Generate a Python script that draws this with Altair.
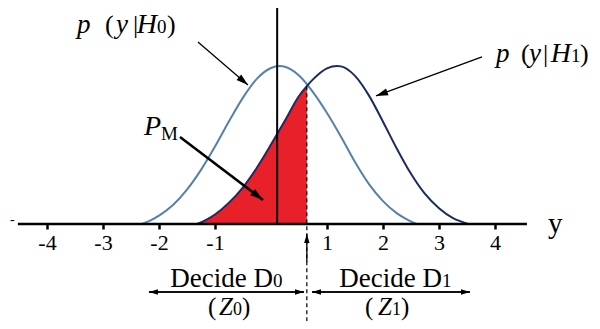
import altair as alt
import pandas as pd

# ---- curve readings (x in axis units, y in density units) ----
H0_X = [-2.30, -2.15, -2.0, -1.75, -1.5, -1.25, -1.0, -0.75, -0.5, -0.25, 0.0, 0.15, 0.25, 0.5, 0.75, 1.0, 1.25, 1.5, 1.75, 2.0, 2.25, 2.45, 2.6]
H0_Y = [0.0, 0.009, 0.021, 0.048, 0.087, 0.137, 0.196, 0.260, 0.320, 0.368, 0.395, 0.400, 0.398, 0.376, 0.334, 0.281, 0.221, 0.157, 0.101, 0.058, 0.027, 0.010, 0.0]
H1_X = [-1.32, -1.15, -1.0, -0.75, -0.5, -0.25, 0.0, 0.25, 0.5, 0.64, 0.75, 1.0, 1.18, 1.25, 1.5, 1.75, 2.0, 2.25, 2.5, 2.75, 3.0, 3.25, 3.4, 3.52]
H1_Y = [0.0, 0.011, 0.024, 0.054, 0.093, 0.143, 0.201, 0.262, 0.324, 0.349, 0.366, 0.394, 0.400, 0.399, 0.375, 0.325, 0.259, 0.190, 0.127, 0.076, 0.040, 0.015, 0.006, 0.0]

THRESHOLD = 0.64
THRESHOLD_Y = 0.349
ORIGIN_LINE = 0.11
TICKS = [-4, -3, -2, -1, 1, 2, 3, 4]
AXIS_EXTENT = [-4.52, 4.57]

# arrows: start x, start y, tip x, tip y, width
ARROW_X = [-1.304, 3.768, -1.625, 0.64, -2.179, 0.589, 0.732, 3.554]
ARROW_Y = [0.4608, 0.4228, 0.2203, -0.0962, -0.1722, -0.1722, -0.1722, -0.1722]
ARROW_X2 = [-0.411, 1.875, -0.143, 0.64, 0.589, -2.179, 3.554, 0.732]
ARROW_Y2 = [0.3519, 0.3241, 0.0608, -0.0253, -0.1722, -0.1722, -0.1722, -0.1722]
ARROW_W = [1.3, 1.3, 2.5, 1.3, 1.3, 1.3, 1.3, 1.3]
HEAD_ANGLE = [130.7, 249.8, 127.2, 0, 90, 270, 90, 270]
HEAD_SIZE = [144, 144, 169, 81, 81, 81, 81, 81]

# text pieces (italic, left aligned)
IT_TEXT = ["p", "y", "p", "y"]
IT_X = [-3.464, -2.768, 4.018, 4.607]
IT_Y = [0.4835, 0.4835, 0.4101, 0.4101]
IT_SIZE = [27, 27, 27, 27]

# italic, right aligned
ITR_TEXT = ["H", "H", "P", "Z", "Z"]
ITR_X = [-2.036, 5.357, -1.964, -0.679, 2.161]
ITR_Y = [0.4835, 0.4101, 0.2253, -0.2304, -0.2304]
ITR_SIZE = [28, 28, 28, 25, 25]

# upright, left aligned
UP_TEXT = ["(", "|", "0", ")", "(", "|", "1", ")", "M", "0", "(", "0", ")", "1", "(", "1", ")", "y", "-"]
UP_X = [-2.964, -2.464, -2.036, -1.857, 4.464, 4.857, 5.357, 5.518, -1.964, 0.036, -1.125, -0.679, -0.518, 3.054, 1.679, 2.161, 2.321, 4.946, -4.661]
UP_Y = [0.4835, 0.4835, 0.4835, 0.4835, 0.4101, 0.4101, 0.4101, 0.4101, 0.2127, -0.1595, -0.2304, -0.2304, -0.2304, -0.1595, -0.2304, -0.2304, -0.2304, -0.0228, 0.0]
UP_SIZE = [26, 26, 19, 26, 26, 26, 19, 26, 19, 19, 25, 18, 25, 19, 25, 18, 25, 29, 14]

# upright, right aligned
UPR_TEXT = ["Decide D", "Decide D"]
UPR_X = [0.036, 3.054]
UPR_Y = [-0.1595, -0.1595]
UPR_SIZE = [27, 27]

FONT = "Liberation Serif"

XDOM = [-4.696, 5.732]
YDOM = [-0.2456, 0.5468]
W, H = 584, 313

xscale = alt.Scale(domain=XDOM, nice=False, zero=False)
yscale = alt.Scale(domain=YDOM, nice=False, zero=False)
xaxis = alt.Axis(values=TICKS, domain=False, grid=False, title=None, ticks=True,
                 tickColor="black", tickWidth=2.5, tickSize=5, labelFont=FONT,
                 labelFontSize=22, labelColor="black", labelPadding=3, offset=-97,
                 labelFlush=False, labelOverlap=False,
                 labelExpr="datum.value < 0 ? '-' + abs(datum.value) : '' + datum.value")

def X(f="x"):
    return alt.X(f"{f}:Q", scale=xscale, axis=xaxis)

def Y(f="y"):
    return alt.Y(f"{f}:Q", scale=yscale, axis=None)

h0 = pd.DataFrame({"x": H0_X, "y": H0_Y})
h1 = pd.DataFrame({"x": H1_X, "y": H1_Y})

red = alt.Chart(h1).transform_filter(alt.datum.x <= THRESHOLD).mark_area(
    color="#e8202a", interpolate="monotone").encode(x=X(), y=Y())
l0 = alt.Chart(h0).mark_line(color="#5580ab", strokeWidth=2, interpolate="monotone").encode(x=X(), y=Y())
l1 = alt.Chart(h1).mark_line(color="#1b2a63", strokeWidth=2, interpolate="monotone").encode(x=X(), y=Y())

vline = alt.Chart(pd.DataFrame({"x": [ORIGIN_LINE], "y": [0.0]})).mark_rule(
    color="black", strokeWidth=2).encode(x=X(), y=Y(), y2=alt.value(0))
dline = alt.Chart(pd.DataFrame({"x": [THRESHOLD], "y": [THRESHOLD_Y]})).mark_rule(
    color="black", strokeWidth=1.2, strokeDash=[4, 3]).encode(x=X(), y=Y(), y2=alt.value(H))
axline = alt.Chart(pd.DataFrame({"x": [AXIS_EXTENT[0]], "x2": [AXIS_EXTENT[1]], "y": [0.0]})).mark_rule(
    color="black", strokeWidth=2.5).encode(x=X(), x2="x2:Q", y=Y())

arr = pd.DataFrame({"x": ARROW_X, "y": ARROW_Y, "x2": ARROW_X2, "y2": ARROW_Y2, "w": ARROW_W,
                    "angle": HEAD_ANGLE, "size": HEAD_SIZE})
shafts = alt.Chart(arr).mark_rule(color="black").encode(
    x=X(), y=Y(), x2="x2:Q", y2="y2:Q", strokeWidth=alt.StrokeWidth("w:Q", scale=None))
heads = alt.Chart(arr).mark_point(shape="M0,0L-0.6,2L0.6,2Z", filled=True, color="black", opacity=1).encode(
    x=X("x2"), y=Y("y2"), angle=alt.Angle("angle:Q", scale=None), size=alt.Size("size:Q", scale=None))

def texts(t, xs, ys, sz, align, style):
    df = pd.DataFrame({"t": t, "x": xs, "y": ys, "s": sz})
    return alt.Chart(df).mark_text(align=align, baseline="alphabetic", font=FONT,
                                   fontStyle=style, color="black").encode(
        x=X(), y=Y(), text="t:N", size=alt.Size("s:Q", scale=None))

t1 = texts(IT_TEXT, IT_X, IT_Y, IT_SIZE, "left", "italic")
t2 = texts(ITR_TEXT, ITR_X, ITR_Y, ITR_SIZE, "right", "italic")
t3 = texts(UP_TEXT, UP_X, UP_Y, UP_SIZE, "left", "normal")
t4 = texts(UPR_TEXT, UPR_X, UPR_Y, UPR_SIZE, "right", "normal")

chart = alt.layer(red, l0, l1, vline, dline, axline, shafts, heads, t1, t2, t3, t4).properties(
    width=W, height=H, padding=0, autosize=alt.AutoSizeParams(type="none")
).configure_view(stroke=None).configure_axis(tickCap="butt")

chart.save("out.html", embed_options={"renderer": "svg", "actions": False})
